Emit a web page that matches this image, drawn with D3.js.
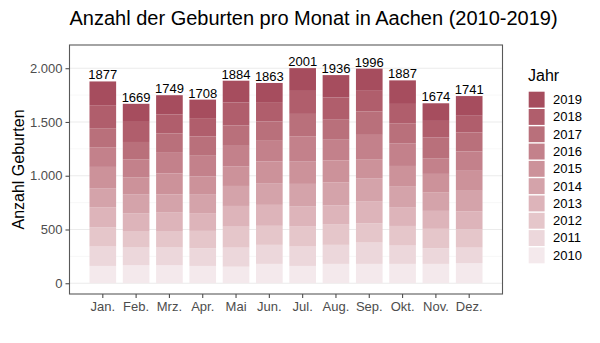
<!DOCTYPE html>
<html>
<head>
<meta charset="utf-8">
<script src="https://cdn.jsdelivr.net/npm/d3@7"></script>
<style>
  body { margin: 0; background: #fff; }
  text { font-family: "Liberation Sans", Arial, sans-serif; }
</style>
</head>
<body>
<div id="chart"></div>
<script>
// months and years of the stacked bars
var months = ['Jan.', 'Feb.', 'Mrz.', 'Apr.', 'Mai', 'Jun.', 'Jul.', 'Aug.', 'Sep.', 'Okt.', 'Nov.', 'Dez.'];
var years = ['2010', '2011', '2012', '2013', '2014', '2015', '2016', '2017', '2018', '2019'];

// births per month, one list per year (Jan..Dez)
var b2010 = [161, 167, 167, 161, 154, 180, 161, 180, 180, 180, 180, 186];
var b2011 = [180, 165, 165, 165, 177, 177, 180, 177, 198, 170, 146, 145];
var b2012 = [180, 154, 154, 161, 195, 177, 186, 193, 180, 183, 180, 171];
var b2013 = [186, 165, 171, 165, 193, 195, 186, 173, 201, 170, 167, 165];
var b2014 = [177, 177, 170, 177, 186, 202, 211, 214, 218, 195, 170, 193];
var b2015 = [198, 155, 195, 165, 180, 201, 207, 205, 177, 193, 174, 186];
var b2016 = [183, 170, 198, 192, 193, 193, 233, 193, 226, 211, 146, 180];
var b2017 = [177, 161, 174, 180, 189, 180, 211, 186, 217, 186, 192, 177];
var b2018 = [214, 195, 177, 170, 214, 180, 214, 207, 193, 180, 155, 155];
var b2019 = [221, 160, 178, 172, 203, 178, 212, 208, 206, 219, 164, 183];

// totals written above each bar
var totals = [1877, 1669, 1749, 1708, 1884, 1863, 2001, 1936, 1996, 1887, 1674, 1741];

var yTicks = [0, 500, 1000, 1500, 2000];
var yMinor = [250, 750, 1250, 1750];

var series = [b2010, b2011, b2012, b2013, b2014, b2015, b2016, b2017, b2018, b2019];

var width = 600, height = 343;
var panel = { left: 69.5, right: 502.5, top: 45, bottom: 294 };

var svg = d3.select('#chart').append('svg')
    .attr('width', width)
    .attr('height', height);

// table of rows, one per month, with a column per year
var rows = months.map(function (m, i) {
    var r = { month: m };
    years.forEach(function (y, j) { r[y] = series[j][i]; });
    return r;
});
var stacked = d3.stack().keys(years)(rows);

var x = d3.scaleBand()
    .domain(months)
    .range([panel.left + 0.5 * (panel.right - panel.left) / 13, panel.right - 0.5 * (panel.right - panel.left) / 13])
    .paddingInner(0.2)
    .paddingOuter(0.1);

var y = d3.scaleLinear()
    .domain([-100, 2216])
    .range([panel.bottom, panel.top]);

var colour = d3.scaleOrdinal()
    .domain(years)
    .range(years.map(function (d, i) {
        return d3.interpolateLab('#f4e9ec', '#a64d5e')(i / (years.length - 1));
    }));

// grid
svg.append('g').selectAll('line.minor')
    .data(yMinor)
    .enter().append('line')
    .attr('x1', panel.left).attr('x2', panel.right)
    .attr('y1', function (d) { return y(d); })
    .attr('y2', function (d) { return y(d); })
    .attr('stroke', '#f2f2f2')
    .attr('stroke-width', 0.6);

svg.append('g').selectAll('line.major')
    .data(yTicks)
    .enter().append('line')
    .attr('x1', panel.left).attr('x2', panel.right)
    .attr('y1', function (d) { return y(d); })
    .attr('y2', function (d) { return y(d); })
    .attr('stroke', '#ebebeb')
    .attr('stroke-width', 1.1);

// stacked bars
svg.append('g').selectAll('g')
    .data(stacked)
    .enter().append('g')
    .attr('fill', function (d) { return colour(d.key); })
    .selectAll('rect')
    .data(function (d) { return d; })
    .enter().append('rect')
    .attr('x', function (d) { return x(d.data.month); })
    .attr('width', x.bandwidth())
    .attr('y', function (d) { return y(d[1]); })
    .attr('height', function (d) { return y(d[0]) - y(d[1]); });

// totals
svg.append('g').selectAll('text')
    .data(totals)
    .enter().append('text')
    .attr('x', function (d, i) { return x(months[i]) + x.bandwidth() / 2; })
    .attr('y', function (d) { return y(d) - 2; })
    .attr('text-anchor', 'middle')
    .attr('font-size', '13px')
    .attr('fill', '#000')
    .text(function (d) { return d; });

// panel border
svg.append('rect')
    .attr('x', panel.left).attr('y', panel.top)
    .attr('width', panel.right - panel.left)
    .attr('height', panel.bottom - panel.top)
    .attr('fill', 'none')
    .attr('stroke', '#595959')
    .attr('stroke-width', 1.1);

// axes
var fmt = d3.formatLocale({ decimal: ',', thousands: '.', grouping: [3], currency: ['', ' €'] }).format(',');

var yAxis = svg.append('g')
    .attr('transform', 'translate(' + panel.left + ',0)')
    .call(d3.axisLeft(y).tickValues(yTicks).tickSize(4).tickPadding(3).tickFormat(fmt));

var xAxis = svg.append('g')
    .attr('transform', 'translate(0,' + panel.bottom + ')')
    .call(d3.axisBottom(x).tickSize(4).tickPadding(4));

[yAxis, xAxis].forEach(function (a) {
    a.select('.domain').remove();
    a.selectAll('line').attr('stroke', '#4d4d4d').attr('stroke-width', 1.1);
    a.selectAll('text')
        .attr('fill', '#4d4d4d')
        .attr('font-size', '13px')
        .attr('font-family', '"Liberation Sans", Arial, sans-serif');
});

// titles
svg.append('text')
    .attr('x', panel.left)
    .attr('y', 25)
    .attr('font-size', '20px')
    .attr('fill', '#000')
    .text('Anzahl der Geburten pro Monat in Aachen (2010-2019)');

svg.append('text')
    .attr('transform', 'translate(24,' + (panel.top + panel.bottom) / 2 + ') rotate(-90)')
    .attr('text-anchor', 'middle')
    .attr('font-size', '16px')
    .attr('fill', '#000')
    .text('Anzahl Geburten');

// legend, newest year on top
var legend = svg.append('g')
    .attr('transform', 'translate(528,0)');

legend.append('text')
    .attr('x', 0)
    .attr('y', 81)
    .attr('font-size', '16px')
    .attr('fill', '#000')
    .text('Jahr');

var keys = legend.selectAll('g.key')
    .data(years.slice().reverse())
    .enter().append('g')
    .attr('transform', function (d, i) { return 'translate(0,' + (91 + i * 17.3) + ')'; });

keys.append('rect')
    .attr('width', 17.3)
    .attr('height', 17.3)
    .attr('fill', '#fff');

keys.append('rect')
    .attr('x', 0.7).attr('y', 0.7)
    .attr('width', 15.9)
    .attr('height', 15.9)
    .attr('fill', function (d) { return colour(d); });

keys.append('text')
    .attr('x', 25)
    .attr('y', 13)
    .attr('font-size', '13px')
    .attr('fill', '#000')
    .text(function (d) { return d; });
</script>
</body>
</html>
